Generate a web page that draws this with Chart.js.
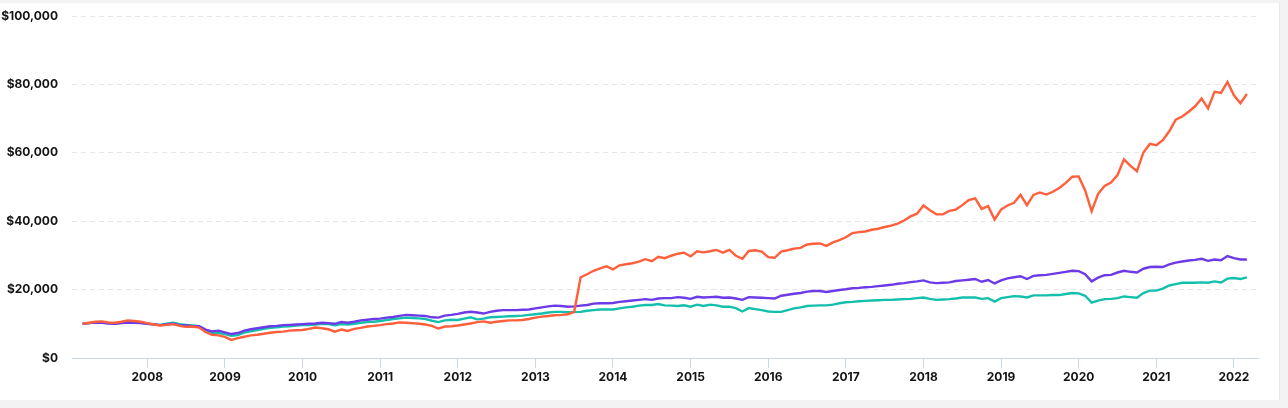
<!DOCTYPE html>
<html>
<head>
<meta charset="utf-8">
<script src="https://cdn.jsdelivr.net/npm/chart.js@4"></script>
<style>
  html, body { margin: 0; padding: 0; background: #f3f3f3; }
  .card { position: absolute; left: 0; top: 3px; width: 1279px; height: 397px; background: #fff; border-right: 1px solid #e9e9e9; }
  canvas { display: block; }
</style>
</head>
<body>
<div class="card"><canvas id="growthChart" width="1279" height="397"></canvas></div>
<script>
// monthly series, first point = March 2007
const startYear = 2007;
const startMonth = 3;

const orangeValues = [
  10000, 10300, 10600, 10700, 10400, 10300, 10600, 11000, 10800, 10600,
  10200, 9800, 9500, 9700, 9900, 9400, 9100, 9200, 8900, 7600, 6800, 6600,
  6200, 5300, 5800, 6200, 6600, 6800, 7100, 7400, 7600, 7700, 8000, 8100,
  8200, 8500, 8900, 8700, 8400, 7700, 8300, 7900, 8500, 8800, 9200, 9400,
  9600, 9900, 10100, 10400, 10300, 10200, 10000, 9800, 9400, 8600, 9200, 9300,
  9500, 9800, 10100, 10500, 10700, 10300, 10600, 10800, 11000, 11000, 11100, 11400,
  11800, 12100, 12300, 12500, 12600, 12800, 13500, 23600, 24500, 25500, 26200, 26800,
  25900, 27100, 27400, 27700, 28200, 28900, 28300, 29600, 29200, 29900, 30500, 30800,
  29700, 31200, 30900, 31200, 31600, 30800, 31600, 29900, 29000, 31300, 31500, 31100,
  29500, 29300, 31100, 31500, 32000, 32200, 33200, 33400, 33500, 32800, 33800, 34500,
  35300, 36500, 36800, 37000, 37500, 37800, 38300, 38700, 39300, 40200, 41400, 42200,
  44600, 43200, 42000, 42000, 43000, 43400, 44700, 46200, 46700, 43600, 44400, 40500,
  43400, 44600, 45400, 47700, 44700, 47700, 48400, 47800, 48600, 49700, 51200, 53000,
  53100, 49000, 42900, 48000, 50300, 51300, 53500, 58100, 56200, 54600, 60100, 62600,
  62200, 63700, 66300, 69700, 70600, 72000, 73600, 75900, 73000, 77800, 77500, 80700,
  76800, 74500, 77200
];

const purpleValues = [
  10000, 10200, 10400, 10300, 10100, 10000, 10200, 10400, 10300, 10200,
  10000, 9800, 9600, 9800, 10000, 9600, 9500, 9300, 9300, 8300, 7800, 8000,
  7500, 7000, 7300, 8000, 8400, 8700, 9000, 9300, 9400, 9600, 9700, 9800,
  9900, 10000, 10100, 10300, 10200, 10000, 10500, 10300, 10600, 11000, 11200, 11400,
  11500, 11800, 12000, 12300, 12600, 12500, 12400, 12300, 11900, 11800, 12400, 12600,
  12900, 13300, 13500, 13300, 13000, 13500, 13800, 14000, 14000, 14000, 14100, 14200,
  14500, 14800, 15100, 15300, 15200, 15000, 15100, 15300, 15500, 15900, 16000, 16000,
  16100, 16400, 16600, 16800, 17000, 17200, 17000, 17400, 17500, 17500, 17800, 17600,
  17300, 17900, 17700, 17800, 17900, 17600, 17700, 17400, 17000, 17800, 17700, 17600,
  17500, 17400, 18200, 18500, 18800, 19000, 19400, 19600, 19600, 19300, 19600, 19900,
  20100, 20400, 20500, 20700, 20800, 21000, 21200, 21400, 21700, 21900, 22200, 22400,
  22700, 22100, 21900, 22000, 22100, 22500, 22700, 22900, 23100, 22300, 22800, 21800,
  22700, 23300, 23600, 23900, 23100, 24000, 24200, 24300, 24600, 24900, 25200, 25500,
  25400, 24500, 22400, 23500, 24200, 24300, 25000, 25500, 25200, 25000, 26100, 26600,
  26700, 26600, 27400, 27900, 28200, 28500, 28700, 29000, 28400, 28800, 28600, 29800,
  29200, 28800, 28800
];

const tealValues = [
  10000, 10200, 10500, 10400, 10200, 10100, 10300, 10500, 10400, 10300,
  10000, 9900, 9700, 10000, 10300, 9900, 9700, 9500, 9300, 8200, 7400, 7300,
  7000, 6500, 6700, 7400, 7800, 8200, 8500, 8800, 9000, 9200, 9300, 9500,
  9600, 9600, 9800, 10000, 9900, 9600, 9900, 9800, 10000, 10300, 10500, 10600,
  10800, 11100, 11400, 11600, 11800, 11700, 11600, 11400, 10900, 10500, 11000, 11200,
  11100, 11500, 11900, 11300, 11500, 11900, 12000, 12100, 12200, 12300, 12400, 12600,
  12800, 13000, 13300, 13500, 13500, 13400, 13400, 13500, 13800, 14000, 14200, 14200,
  14200, 14500, 14800, 15000, 15300, 15500, 15500, 15800, 15400, 15300, 15200, 15400,
  15000, 15600, 15200, 15600, 15400, 15000, 15000, 14600, 13600, 14600, 14300, 14000,
  13600, 13500, 13500, 14000, 14500, 14800, 15200, 15300, 15400, 15400, 15600, 16000,
  16300, 16400, 16600, 16700, 16800, 16900, 17000, 17000, 17100, 17200, 17300, 17500,
  17700, 17300, 17000, 17100, 17200, 17400, 17700, 17700, 17700, 17300, 17500, 16500,
  17500, 17800, 18100, 18000, 17700, 18300, 18300, 18300, 18400, 18400, 18700, 19000,
  18900, 18200, 16200, 16800, 17200, 17300, 17500, 18000, 17800, 17600, 19000, 19700,
  19700, 20300, 21200, 21600, 22000, 22000, 22000, 22100, 22000, 22400, 22100, 23200,
  23400, 23100, 23600
];

const yearTicks = [2008, 2009, 2010, 2011, 2012, 2013, 2014, 2015, 2016, 2017, 2018, 2019, 2020, 2021, 2022];
const valueTicks = [0, 20000, 40000, 60000, 80000, 100000];

function toPoints(values) {
  return values.map((v, i) => ({ x: startYear + (startMonth - 1 + i) / 12, y: v }));
}

const labelFont = { family: 'Inter, "DejaVu Sans", sans-serif', size: 12, weight: 'bold' };

const ctx = document.getElementById('growthChart').getContext('2d');
new Chart(ctx, {
  type: 'line',
  data: {
    datasets: [
      { data: toPoints(orangeValues), borderColor: '#ff5f3a', borderWidth: 2.4, pointRadius: 0, tension: 0 },
      { data: toPoints(purpleValues), borderColor: '#6c3ae6', borderWidth: 2.4, pointRadius: 0, tension: 0 },
      { data: toPoints(tealValues), borderColor: '#14c0ad', borderWidth: 2.4, pointRadius: 0, tension: 0 }
    ]
  },
  options: {
    responsive: false,
    animation: false,
    layout: { padding: { top: 13, right: 21, left: 0, bottom: 0 } },
    plugins: {
      legend: { display: false },
      tooltip: { enabled: false }
    },
    scales: {
      x: {
        type: 'linear',
        min: 2007.03,
        max: 2022.31,
        afterBuildTicks: axis => { axis.ticks = yearTicks.map(v => ({ value: v })); },
        afterFit: axis => { axis.height = 42; },
        grid: { drawOnChartArea: false, drawTicks: true, tickLength: 10, color: '#cbd6ec' },
        border: { display: true, color: '#cbd6ec', width: 1 },
        ticks: { color: '#141414', font: labelFont, padding: 2, maxRotation: 0, callback: v => String(v) }
      },
      y: {
        min: 0,
        max: 100000,
        afterBuildTicks: axis => { axis.ticks = valueTicks.map(v => ({ value: v })); },
        afterFit: axis => { axis.width = 72; axis.paddingTop = 0; axis.paddingBottom = 0; },
        grid: { drawTicks: false, color: '#e6e6e6' },
        border: { display: false, dash: [5, 4] },
        ticks: { color: '#141414', font: labelFont, padding: 14, callback: v => '$' + v.toLocaleString('en-US') }
      }
    }
  }
});
</script>
</body>
</html>
